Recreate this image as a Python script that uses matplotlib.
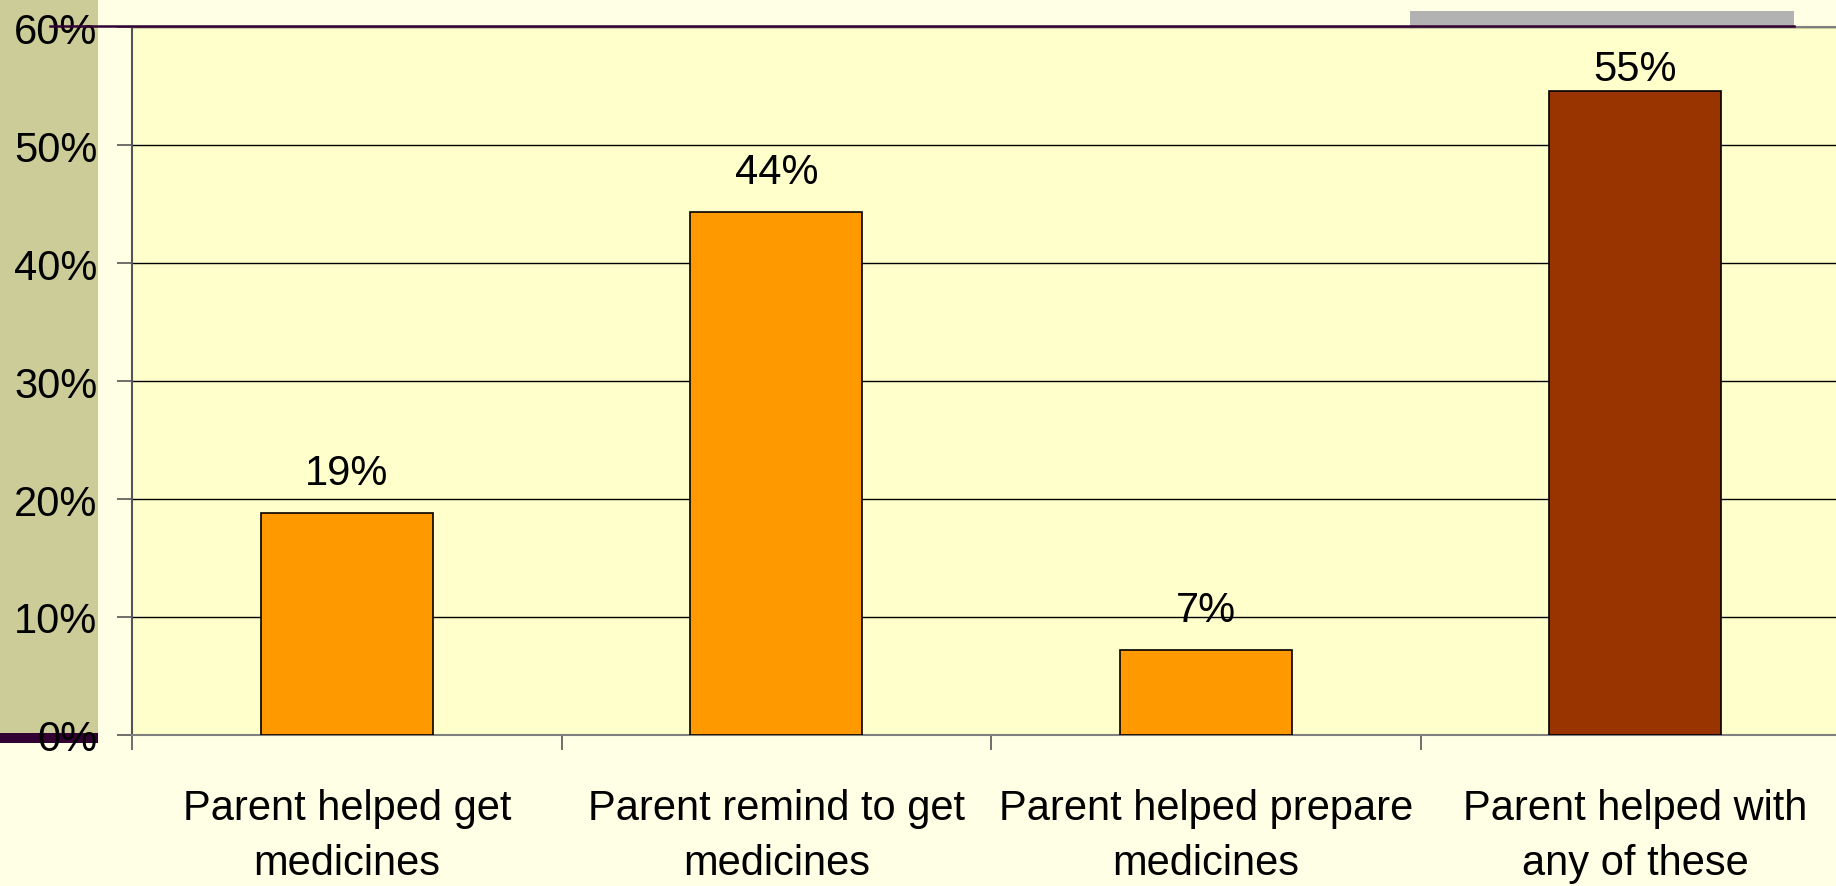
import matplotlib
matplotlib.use("Agg")
import matplotlib.pyplot as plt
from matplotlib.patches import Rectangle
from matplotlib.lines import Line2D

categories = ["Parent helped get\nmedicines", "Parent remind to get\nmedicines",
              "Parent helped prepare\nmedicines", "Parent helped with\nany of these"]
values = [18.8, 44.3, 7.2, 54.6]
value_labels = ["19%", "44%", "7%", "55%"]
bar_colors = ["#FF9900", "#FF9900", "#FF9900", "#993300"]
yticks = [0, 10, 20, 30, 40, 50, 60]
ytick_labels = ["0%", "10%", "20%", "30%", "40%", "50%", "60%"]

plt.rcParams['font.family'] = ['Liberation Sans', 'DejaVu Sans']

W, H = 1836, 887
fig = plt.figure(figsize=(W / 100, H / 100), dpi=100, facecolor="#FFFFE5")

def fx(x):
    return x / W

def fy(y):
    return 1 - y / H

# decorative page elements
fig.patches.append(Rectangle((0, fy(734)), fx(98), 1 - fy(734) + 0.01,
                             transform=fig.transFigure, facecolor="#CCCC99",
                             edgecolor="none", zorder=-10))
fig.patches.append(Rectangle((0, fy(744)), fx(98), fy(734) - fy(744),
                             transform=fig.transFigure, facecolor="#330033",
                             edgecolor="none", zorder=-10))
fig.patches.append(Rectangle((fx(1410), fy(28)), fx(1794) - fx(1410), fy(12) - fy(28),
                             transform=fig.transFigure, facecolor="#B2B2B2",
                             edgecolor="none", zorder=-10))

ax_left = 132 / W
ax_bottom = 1 - 736 / H
ax_w = (1850 - 132) / W
ax_h = (736 - 28) / H
ax = fig.add_axes([ax_left, ax_bottom, ax_w, ax_h])
ax.set_facecolor("#FFFFCC")

x = list(range(len(categories)))
ax.bar(x, values, width=0.4, color=bar_colors, edgecolor="black", linewidth=1.2, zorder=3)
# data labels above bars, kept inside the plot area (as the original chart does)
for xi, v, lab in zip(x, values, value_labels):
    ypos = min(v + 3.4, 56.4)
    ax.text(xi, ypos, lab, ha="center", va="center", fontsize=30, color="black", zorder=4)

ax.set_xlim(-0.5, 3.5)
ax.set_ylim(0, 60)
ax.set_yticks(yticks)
ax.set_yticklabels(ytick_labels, fontsize=30)
ax.set_xticks([-0.5, 0.5, 1.5, 2.5, 3.5])
ax.set_xticklabels([])
ax.set_xticks(x, minor=True)
ax.set_xticklabels(categories, minor=True, fontsize=30, linespacing=1.5)
ax.tick_params(axis="x", which="minor", length=0, pad=38)
ax.tick_params(axis="x", which="major", length=11, width=1.2, color="#555555", direction="out")
ax.tick_params(axis="y", length=11, width=1.2, color="#555555", direction="out", pad=14)

ax.yaxis.grid(True, color="black", linewidth=1.0, zorder=1)
ax.set_axisbelow(True)
ax.spines["right"].set_visible(False)
ax.spines["top"].set_color("#808080")
ax.spines["top"].set_linewidth(1.5)
ax.spines["left"].set_color("#555555")
ax.spines["left"].set_linewidth(1.5)
ax.spines["bottom"].set_color("#808080")
ax.spines["bottom"].set_linewidth(1.5)

# purple top rule
fig.lines.append(Line2D([fx(50), fx(1794)], [fy(27), fy(27)], transform=fig.transFigure,
                        color="#330033", linewidth=1.8, zorder=5))

fig.savefig("out.png", dpi=100, facecolor=fig.get_facecolor())
